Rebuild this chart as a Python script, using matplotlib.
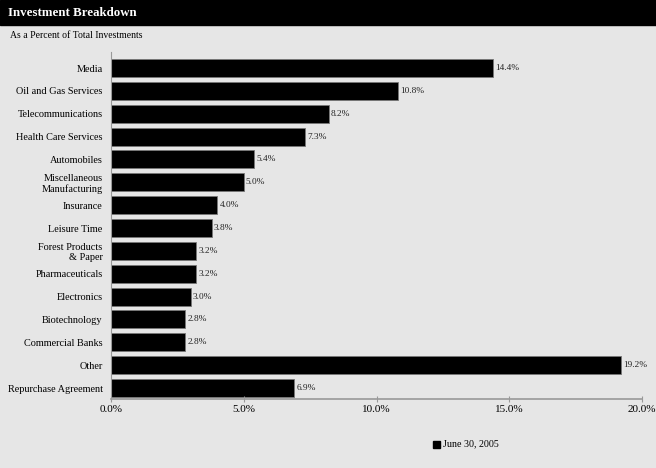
import matplotlib
matplotlib.use("Agg")
from matplotlib import pyplot as plt
from matplotlib.patches import Rectangle

categories = ["Media", "Oil and Gas Services", "Telecommunications",
              "Health Care Services", "Automobiles",
              "Miscellaneous\nManufacturing", "Insurance", "Leisure Time",
              "Forest Products\n& Paper", "Pharmaceuticals", "Electronics",
              "Biotechnology", "Commercial Banks", "Other",
              "Repurchase Agreement"]
values = [14.4, 10.8, 8.2, 7.3, 5.4, 5.0, 4.0, 3.8, 3.2, 3.2, 3.0, 2.8, 2.8,
          19.2, 6.9]
ticks = [0, 5, 10, 15, 20]
series_name = "June 30, 2005"

plt.rcParams["font.family"] = ["Liberation Serif", "DejaVu Serif"]
bg = "#e6e6e6"

fig = plt.figure(figsize=(6.56, 4.68), dpi=100, facecolor=bg)

# black title band
fig.patches.append(Rectangle((0, 1 - 25 / 468), 1, 25 / 468,
                             transform=fig.transFigure, color="black",
                             zorder=0))
fig.text(8 / 656, 1 - 13 / 468, "Investment Breakdown", color="white",
         fontsize=9.3, fontweight="bold", va="center", ha="left")
fig.text(10 / 656, 1 - 36 / 468, "As a Percent of Total Investments",
         color="black", fontsize=7, va="center", ha="left")

W, H = 656, 468
left, right, top, bottom = 111, 642, 52, 399
ax = fig.add_axes([left / W, 1 - bottom / H, (right - left) / W,
                   (bottom - top) / H])
ax.set_facecolor(bg)

pos = list(range(len(categories)))
bars = ax.barh(pos, values, height=0.79, color="black", edgecolor="#777777",
               linewidth=0.6)
for p, v in zip(pos, values):
    ax.text(v + 0.08, p, "%.1f%%" % v, va="center", ha="left", fontsize=6.7,
            color="#222222")

ax.set_xlim(0, 20)
ax.set_ylim(14.48, -0.7)
ax.set_yticks(pos)
ax.set_yticklabels(categories, fontsize=7.4, linespacing=1.15,
                   multialignment="right")
ax.set_xticks(ticks)
ax.set_xticklabels(["%.1f%%" % t for t in ticks], fontsize=8)
ax.tick_params(axis="y", length=0, pad=6)
ax.tick_params(axis="x", direction="inout", length=4, color="#999999",
               pad=2)
for s in ["top", "right"]:
    ax.spines[s].set_visible(False)
ax.spines["left"].set_color("#999999")
ax.spines["bottom"].set_color("#999999")
ax.spines["left"].set_linewidth(0.8)
ax.spines["bottom"].set_linewidth(1.2)

# legend
fig.patches.append(Rectangle((433 / W, 1 - 448 / H), 7 / W, 7 / H,
                             transform=fig.transFigure, color="black"))
fig.text(443 / W, 1 - 444 / H, series_name, fontsize=7.2, va="center",
         ha="left")

fig.savefig("out.png", dpi=100, facecolor=bg)
